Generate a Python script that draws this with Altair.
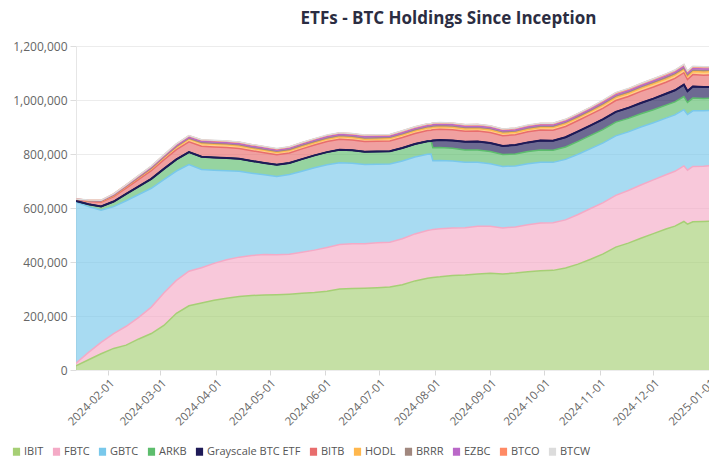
import altair as alt
import pandas as pd

dates = [
    "2024-01-14", "2024-01-21", "2024-01-28", "2024-02-04", "2024-02-11", "2024-02-18",
    "2024-02-25", "2024-03-03", "2024-03-10", "2024-03-17", "2024-03-24", "2024-03-31",
    "2024-04-07", "2024-04-14", "2024-04-21", "2024-04-28", "2024-05-05", "2024-05-12",
    "2024-05-19", "2024-05-26", "2024-06-02", "2024-06-09", "2024-06-16", "2024-06-23",
    "2024-06-30", "2024-07-07", "2024-07-14", "2024-07-21", "2024-07-28", "2024-07-30",
    "2024-07-31", "2024-08-04", "2024-08-11", "2024-08-18", "2024-08-25", "2024-09-01",
    "2024-09-08", "2024-09-15", "2024-09-22", "2024-09-29", "2024-10-06", "2024-10-13",
    "2024-10-20", "2024-10-27", "2024-11-03", "2024-11-10", "2024-11-17", "2024-11-24",
    "2024-12-01", "2024-12-08", "2024-12-13", "2024-12-18", "2024-12-20", "2024-12-23",
    "2024-12-29", "2025-01-05",
]

# holdings in thousands of BTC
ibit = [15, 38, 60, 80, 92, 115, 135, 165, 210, 238, 248, 258, 266, 272, 276, 278, 279, 281,
        284, 287, 292, 300, 302, 303, 305, 307, 316, 330, 340, 342, 343, 345, 350, 352, 356, 358,
        356, 359, 364, 368, 369, 378, 392, 410, 430, 455, 470, 488, 505, 522, 533, 550, 540, 549,
        550, 552]
fbtc = [10, 27, 42, 55, 70, 80, 98, 120, 122, 128, 131, 137, 142, 146, 148, 150, 148, 148,
        152, 157, 162, 165, 166, 165, 166, 166, 170, 174, 177, 177, 177, 178, 176, 175, 176, 174,
        170, 171, 174, 176, 176, 178, 184, 188, 190, 192, 195, 197, 199, 201, 203, 206, 200, 205,
        205, 206]
gbtc = [597, 540, 490, 470, 465, 455, 440, 420, 405, 395, 364, 345, 330, 318, 305, 295, 290, 295,
        300, 305, 306, 303, 298, 293, 291, 290, 288, 285, 282, 281, 255, 253, 248, 242, 237, 232,
        228, 226, 226, 225, 224, 224, 223, 222, 221, 220, 217, 215, 212, 210, 209, 208, 206, 206,
        205, 204]
arkb = [4, 9, 14, 19, 25, 30, 35, 40, 43, 46, 47, 47, 47, 46, 45, 44, 43, 43,
        45, 46, 47, 48, 48, 47, 47, 47, 48, 48, 48, 48, 48, 48, 47, 46, 46, 45,
        44, 44, 45, 46, 45, 46, 48, 49, 50, 51, 50, 49, 48, 48, 48, 49, 45, 47,
        46, 45]
mini = [0, 0, 0, 0, 0, 0, 0, 0, 0, 0, 0, 0, 0, 0, 0, 0, 0, 0,
        0, 0, 0, 0, 0, 0, 0, 0, 0, 0, 0, 0, 27, 28, 29, 30, 31, 32,
        32, 33, 34, 35, 35, 36, 37, 37, 38, 38, 39, 40, 41, 42, 43, 44, 42, 43,
        42, 42]
bitb = [5, 10, 15, 18, 22, 26, 30, 33, 36, 38, 39, 39, 39, 38, 38, 38, 37, 37,
        38, 38, 39, 39, 38, 38, 38, 38, 39, 39, 40, 40, 40, 40, 40, 39, 39, 39,
        38, 38, 39, 39, 39, 40, 40, 41, 41, 42, 42, 43, 43, 43, 44, 44, 43, 44,
        44, 44]
hodl = [1, 2, 3, 4, 5, 6, 7, 8, 9, 10, 10, 10, 10, 10, 9, 9, 9, 9,
        9, 9, 9, 9, 9, 9, 9, 9, 9, 9, 9, 9, 9, 9, 9, 9, 9, 9,
        9, 9, 9, 9, 10, 10, 10, 10, 11, 11, 11, 11, 12, 12, 12, 12, 12, 12,
        12, 12]
brrr = [0.5, 1, 1.5, 2, 2, 2.5, 3, 3, 3.5, 3.5, 4, 4, 4, 4, 4, 4, 4, 4,
        4.5, 4.5, 4.5, 4.5, 4.5, 4.5, 4.5, 5, 5, 5, 5, 5, 5, 5, 5, 5, 5, 5,
        5, 5, 5, 5, 5, 5, 5, 5, 5.5, 5.5, 5.5, 5.5, 5.5, 5.5, 5.5, 5.5, 5.5, 5.5,
        5.5, 5.5]
ezbc = [0.5, 1, 1.5, 2, 2, 2.5, 3, 3, 3.5, 3.5, 4, 4, 4, 4, 4, 4, 4, 4,
        4, 4, 4, 4, 4, 4, 4, 4, 4, 4, 4, 4, 4, 4, 4, 4, 4, 4,
        4, 4, 4, 4, 4, 4, 4, 4, 4.5, 4.5, 4.5, 4.5, 5, 5, 5, 5, 5, 5,
        5, 5]
btco = [0.5, 1, 1.5, 2, 2.5, 3, 3.5, 4, 4.5, 5, 5, 5.5, 5.5, 5.5, 5.5, 5, 5, 5,
        5, 5.5, 5.5, 5.5, 5.5, 5.5, 5.5, 5.5, 6, 6, 6, 6, 6, 6, 6, 6, 6, 6,
        6, 6, 6, 6, 6, 6.5, 6.5, 6.5, 7, 7, 7, 7, 7, 7, 7, 7, 7, 7,
        7, 7]
btcw = [0.2, 0.3, 0.4, 0.5, 0.5, 0.6, 0.7, 0.8, 0.9, 1, 1, 1, 1, 1, 1, 1, 1, 1,
        1, 1, 1, 1, 1, 1, 1, 1, 1, 1, 1, 1, 1, 1, 1, 1, 1, 1,
        1, 1, 1, 1, 1, 1, 1, 1.2, 1.2, 1.3, 1.3, 1.3, 1.4, 1.4, 1.4, 1.5, 1.5, 1.5,
        1.5, 1.5]

series_names = ["IBIT", "FBTC", "GBTC", "ARKB", "Grayscale BTC ETF", "BITB",
                "HODL", "BRRR", "EZBC", "BTCO", "BTCW"]
series_values = [ibit, fbtc, gbtc, arkb, mini, bitb, hodl, brrr, ezbc, btco, btcw]
colors = ["#a6cf75", "#f4aac6", "#79c8eb", "#5dbd6d", "#1e1a57", "#e86d6d",
          "#ffb74d", "#a1887f", "#ba68c8", "#ff8a65", "#dcdcdc"]
y_ticks = [0, 200000, 400000, 600000, 800000, 1000000, 1200000]

rows = []
for idx, (name, vals) in enumerate(zip(series_names, series_values)):
    for d, v in zip(dates, vals):
        rows.append({"date": d, "series": name, "order": idx, "btc": v * 1000})
df = pd.DataFrame(rows)

x_ticks = [alt.DateTime(year=2024, month=m, date=1, utc=True) for m in range(2, 13)] + \
          [alt.DateTime(year=2025, month=1, date=1, utc=True)]
x_scale = alt.Scale(type="utc", domain=[alt.DateTime(year=2024, month=1, date=14, utc=True),
                                        alt.DateTime(year=2025, month=1, date=1, utc=True)])
y_scale = alt.Scale(domain=[0, 1200000], nice=False)

FONT = "Open Sans"

x_enc = alt.X("date:T", scale=x_scale, title=None,
              axis=alt.Axis(values=x_ticks, format="%Y-%m-%d", labelOverlap=False,
                            labelAngle=-45, labelFont=FONT, labelFontSize=11.5,
                            labelColor="#666666", tickColor="#d8d8d8", tickSize=5,
                            domain=False, grid=False, labelPadding=2, labelBound=False))
y_enc = alt.Y("y1:Q", scale=y_scale, title=None,
              axis=alt.Axis(values=y_ticks, format=",d", labelFont=FONT, labelFontSize=12,
                            labelColor="#666666", tickColor="#dddddd", tickSize=6,
                            labelPadding=3, domainColor="#e6e6e6", gridColor="#ececec"))

base = alt.Chart(df).transform_stack(
    stack="btc", groupby=["date"], sort=[alt.SortField("order", order="ascending")],
    as_=["y0", "y1"]
).encode(x=x_enc, y=y_enc)

area = base.mark_area(fillOpacity=0.65, clip=True).encode(
    y2="y0:Q",
    color=alt.Color("series:N", scale=alt.Scale(domain=series_names, range=colors),
                    legend=alt.Legend(orient="none", legendX=-65, legendY=400,
                                      direction="horizontal", title=None,
                                      symbolType="M-0.9,-1H0.9V1H-0.9Z", symbolSize=64,
                                      symbolOpacity=1, symbolStrokeWidth=0,
                                      labelFont=FONT, labelFontSize=11,
                                      labelColor="#555555", labelOffset=2,
                                      columnPadding=7)),
)

stroke_scale = alt.Scale(domain=series_names, range=colors)

line = base.mark_line(strokeWidth=1.5, clip=True).encode(
    stroke=alt.Stroke("series:N", scale=stroke_scale, legend=None),
)

mini_line = base.transform_filter(
    alt.datum.series == "Grayscale BTC ETF"
).mark_line(strokeWidth=2, clip=True).encode(
    stroke=alt.Stroke("series:N", scale=stroke_scale, legend=None),
)

chart = alt.layer(area, line, mini_line).properties(
    width=633,
    height=324,
    autosize=alt.AutoSizeParams(type="none"),
    padding={"left": 76, "top": 46, "right": 0, "bottom": 88},
    title=alt.TitleParams("ETFs - BTC Holdings Since Inception", font=FONT, fontSize=17,
                          fontWeight="bold", color="#2b2d42", anchor="middle", dx=56,
                          offset=12),
    background="white",
).configure_view(strokeWidth=0)

chart.save("out.html", embed_options={"renderer": "svg", "actions": False})
